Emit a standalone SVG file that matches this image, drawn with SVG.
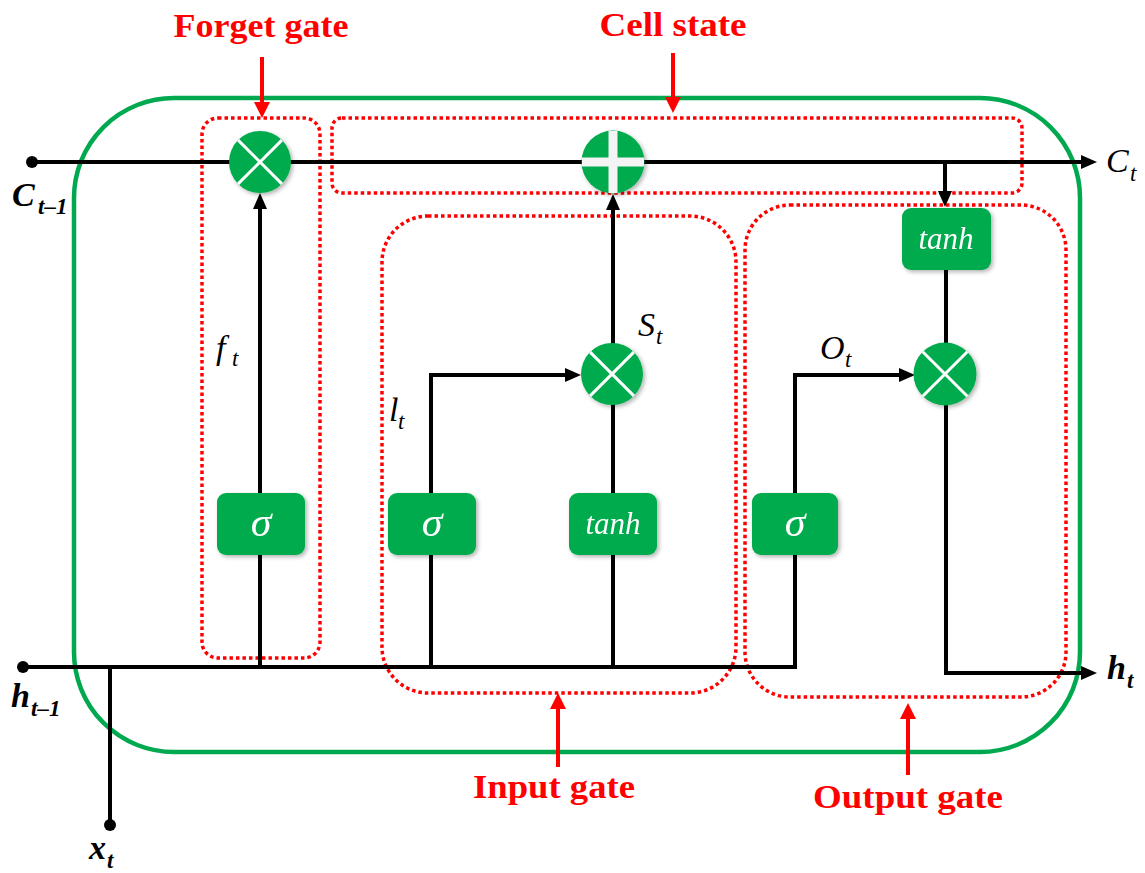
<svg xmlns="http://www.w3.org/2000/svg" width="1145" height="873" viewBox="0 0 1145 873">
<style>
.wire{fill:none;stroke:#000;stroke-width:4;}
.redarrow{fill:none;stroke:#f00;stroke-width:4;}
.dot{fill:none;stroke:#f00;stroke-width:3.5;stroke-dasharray:3.5 3;}
.box{fill:#00ab4e;}
.op{fill:#00ab4e;}
.xw{stroke:#fff;stroke-width:3;}
.gate{font-family:"Liberation Serif",serif;font-weight:bold;font-size:34px;fill:#f00;text-anchor:middle;}
.lbl{font-family:"Liberation Serif",serif;font-style:italic;font-size:34px;fill:#000;}
.b{font-weight:bold;}
.sub{font-size:23px;}
.fn{font-family:"Liberation Serif",serif;font-style:italic;fill:#fff;text-anchor:middle;}
</style>
<defs>
<marker id="ah" viewBox="0 0 16 14" refX="1" refY="7" markerWidth="16" markerHeight="14" markerUnits="userSpaceOnUse" orient="auto"><path d="M0,0 L16,7 L0,14 z" fill="#000"/></marker>
<marker id="rah" viewBox="0 0 16 16" refX="1" refY="8" markerWidth="16" markerHeight="16" markerUnits="userSpaceOnUse" orient="auto"><path d="M0,0 L16,8 L0,16 z" fill="#f00"/></marker>
<filter id="sh" x="-20%" y="-20%" width="150%" height="150%"><feDropShadow dx="2" dy="2" stdDeviation="2" flood-color="#000" flood-opacity="0.3"/></filter>
</defs>

<g id="cell">
<rect x="74" y="98" width="1006" height="654" rx="100" ry="100" fill="none" stroke="#00a94f" stroke-width="4.5"/>
</g>

<g id="regions">
<rect id="forget-region" x="202" y="118" width="118" height="540" rx="16" class="dot"/>
<rect id="cell-region" x="332" y="118" width="690" height="75" rx="10" class="dot"/>
<rect id="input-region" x="382" y="216" width="354" height="477" rx="46" class="dot"/>
<rect id="output-region" x="745" y="205" width="321" height="492" rx="45" class="dot"/>
</g>

<g id="connectors">
<line x1="32" y1="162" x2="1082" y2="162" class="wire" marker-end="url(#ah)"/>
<line x1="945" y1="162" x2="945" y2="192" class="wire" marker-end="url(#ah)"/>
<line x1="946" y1="270" x2="946" y2="343" class="wire"/>
<polyline points="946,405 946,673 1082,673" class="wire" marker-end="url(#ah)"/>
<line x1="23" y1="667" x2="797" y2="667" class="wire"/>
<polyline points="795,667 795,375 900,375" class="wire" marker-end="url(#ah)"/>
<line x1="110" y1="667" x2="110" y2="825" class="wire"/>
<line x1="260" y1="667" x2="260" y2="208" class="wire" marker-end="url(#ah)"/>
<polyline points="431,667 431,375 566,375" class="wire" marker-end="url(#ah)"/>
<line x1="613" y1="667" x2="613" y2="209" class="wire" marker-end="url(#ah)"/>
<circle cx="32" cy="162" r="6" fill="#000"/>
<circle cx="23" cy="667" r="6" fill="#000"/>
<circle cx="110" cy="825" r="6" fill="#000"/>
<line x1="262" y1="57" x2="262" y2="103" class="redarrow" marker-end="url(#rah)"/>
<line x1="673" y1="53" x2="673" y2="98" class="redarrow" marker-end="url(#rah)"/>
<line x1="558" y1="767" x2="558" y2="708" class="redarrow" marker-end="url(#rah)"/>
<line x1="908" y1="775" x2="908" y2="718" class="redarrow" marker-end="url(#rah)"/>
</g>

<g id="forget-mult" filter="url(#sh)">
<circle cx="260" cy="162" r="31" class="op"/>
<line x1="238.1" y1="140.1" x2="281.9" y2="183.9" class="xw"/>
<line x1="281.9" y1="140.1" x2="238.1" y2="183.9" class="xw"/>
</g>
<g id="cell-add" filter="url(#sh)">
<circle cx="613" cy="162" r="31.5" class="op"/>
<rect x="608.5" y="131" width="9" height="62" fill="#f4f4f4"/>
<rect x="582" y="157.5" width="62" height="9" fill="#f4f4f4"/>
</g>
<g id="input-mult" filter="url(#sh)">
<circle cx="612" cy="374" r="31" class="op"/>
<line x1="590.1" y1="352.1" x2="633.9" y2="395.9" class="xw"/>
<line x1="633.9" y1="352.1" x2="590.1" y2="395.9" class="xw"/>
</g>
<g id="output-mult" filter="url(#sh)">
<circle cx="945" cy="374" r="31.5" class="op"/>
<line x1="922.7" y1="351.7" x2="967.3" y2="396.3" class="xw"/>
<line x1="967.3" y1="351.7" x2="922.7" y2="396.3" class="xw"/>
</g>

<g id="forget-sigma" filter="url(#sh)">
<rect x="217" y="493" width="88" height="62" rx="9" class="box"/>
<text x="261" y="536" class="fn" font-size="42">σ</text>
</g>
<g id="input-sigma" filter="url(#sh)">
<rect x="388" y="493" width="88" height="62" rx="9" class="box"/>
<text x="432" y="536" class="fn" font-size="42">σ</text>
</g>
<g id="input-tanh" filter="url(#sh)">
<rect x="569" y="493" width="88" height="62" rx="9" class="box"/>
<text x="613" y="534" class="fn" font-size="31">tanh</text>
</g>
<g id="output-sigma" filter="url(#sh)">
<rect x="752" y="493" width="86" height="62" rx="9" class="box"/>
<text x="795" y="536" class="fn" font-size="42">σ</text>
</g>
<g id="output-tanh" filter="url(#sh)">
<rect x="902" y="208" width="89" height="62" rx="9" class="box"/>
<text x="946" y="249" class="fn" font-size="31">tanh</text>
</g>

<g id="labels">
<text x="261" y="37" class="gate" textLength="175" lengthAdjust="spacingAndGlyphs">Forget gate</text>
<text x="673" y="36" class="gate" textLength="147" lengthAdjust="spacingAndGlyphs">Cell state</text>
<text x="554" y="798" class="gate" textLength="162" lengthAdjust="spacingAndGlyphs">Input gate</text>
<text x="908" y="808" class="gate" textLength="190" lengthAdjust="spacingAndGlyphs">Output gate</text>

<text class="lbl b"><tspan x="12" y="206">C</tspan><tspan class="sub" x="38" y="214">t–1</tspan></text>
<text class="lbl"><tspan x="1106" y="172">C</tspan><tspan class="sub" x="1130" y="181">t</tspan></text>
<text class="lbl b"><tspan x="11" y="707">h</tspan><tspan class="sub" x="31" y="716">t–1</tspan></text>
<text class="lbl b"><tspan x="89" y="859">x</tspan><tspan class="sub" x="107" y="868">t</tspan></text>
<text class="lbl b"><tspan x="1107" y="679">h</tspan><tspan class="sub" x="1127" y="688">t</tspan></text>
<text class="lbl"><tspan x="216" y="359">f</tspan><tspan class="sub" x="232" y="366">t</tspan></text>
<text class="lbl"><tspan x="389" y="421">l</tspan><tspan class="sub" x="398" y="429">t</tspan></text>
<text class="lbl"><tspan x="638" y="336">S</tspan><tspan class="sub" x="656" y="344">t</tspan></text>
<text class="lbl"><tspan x="820" y="359">O</tspan><tspan class="sub" x="845" y="367">t</tspan></text>
</g>
</svg>
